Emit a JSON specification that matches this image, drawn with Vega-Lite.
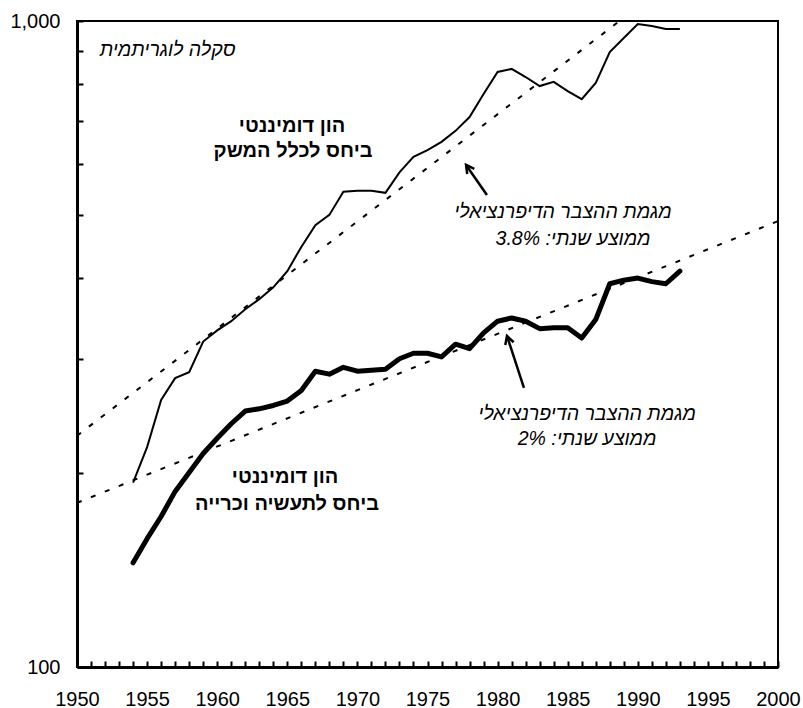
{
  "$schema": "https://vega.github.io/schema/vega-lite/v6.json",
  "width": 701,
  "height": 646,
  "autosize": {"type": "none"},
  "padding": {"left": 77, "top": 21, "right": 25, "bottom": 41},
  "background": "white",
  "config": {
    "view": {"stroke": "black", "strokeWidth": 2},
    "font": "Liberation Sans",
    "axis": {"grid": false, "title": null, "domainColor": "black", "domainWidth": 3, "tickColor": "black", "tickWidth": 2, "labelColor": "black", "labelFont": "Liberation Sans", "labelFontSize": 20, "labelFlush": false, "labelOverlap": false}
  },
  "encoding": {
    "x": {"field": "year", "type": "quantitative", "scale": {"domain": [1950, 2000], "nice": false, "zero": false},
      "axis": {"values": [1950,1951,1952,1953,1954,1955,1956,1957,1958,1959,1960,1961,1962,1963,1964,1965,1966,1967,1968,1969,1970,1971,1972,1973,1974,1975,1976,1977,1978,1979,1980,1981,1982,1983,1984,1985,1986,1987,1988,1989,1990,1991,1992,1993,1994,1995,1996,1997,1998,1999,2000],
        "format": "d", "labelExpr": "datum.value % 5 === 0 ? datum.label : ''", "tickSize": -6, "labelPadding": 28}},
    "y": {"field": "value", "type": "quantitative", "scale": {"type": "log", "domain": [100, 1000], "nice": false},
      "axis": {"values": [100,200,300,400,500,600,700,800,900,1000], "labelExpr": "datum.value === 100 || datum.value === 1000 ? format(datum.value, ',') : ''", "tickSize": -6, "labelPadding": 23}}
  },
  "layer": [
    {
      "data": {"values": [
        {"trend": "a", "year": 1950, "value": 228}, {"trend": "a", "year": 1988.7, "value": 1000},
        {"trend": "b", "year": 1950, "value": 179.5}, {"trend": "b", "year": 2000, "value": 490}
      ]},
      "mark": {"type": "line", "color": "black", "strokeWidth": 2, "strokeDash": [5, 10], "clip": true},
      "encoding": {"detail": {"field": "trend"}}
    },
    {
      "data": {"values": [
        {"year": 1954, "value": 193}, {"year": 1955, "value": 219}, {"year": 1956, "value": 259}, {"year": 1957, "value": 280},
        {"year": 1958, "value": 286}, {"year": 1959, "value": 319}, {"year": 1960, "value": 332}, {"year": 1961, "value": 343},
        {"year": 1962, "value": 358}, {"year": 1963, "value": 371}, {"year": 1964, "value": 387}, {"year": 1965, "value": 410},
        {"year": 1966, "value": 447}, {"year": 1967, "value": 483}, {"year": 1968, "value": 501}, {"year": 1969, "value": 544},
        {"year": 1970, "value": 546}, {"year": 1971, "value": 546}, {"year": 1972, "value": 542}, {"year": 1973, "value": 583},
        {"year": 1974, "value": 616}, {"year": 1975, "value": 631}, {"year": 1976, "value": 650}, {"year": 1977, "value": 676},
        {"year": 1978, "value": 710}, {"year": 1979, "value": 771}, {"year": 1980, "value": 834}, {"year": 1981, "value": 843},
        {"year": 1982, "value": 819}, {"year": 1983, "value": 793}, {"year": 1984, "value": 805}, {"year": 1985, "value": 779},
        {"year": 1986, "value": 757}, {"year": 1987, "value": 802}, {"year": 1988, "value": 895}, {"year": 1989, "value": 941},
        {"year": 1990, "value": 989}, {"year": 1991, "value": 982}, {"year": 1992, "value": 972}, {"year": 1993, "value": 972}
      ]},
      "mark": {"type": "line", "color": "black", "strokeWidth": 2}
    },
    {
      "data": {"values": [
        {"year": 1954, "value": 145}, {"year": 1955, "value": 158}, {"year": 1956, "value": 171}, {"year": 1957, "value": 187},
        {"year": 1958, "value": 200}, {"year": 1959, "value": 214}, {"year": 1960, "value": 226}, {"year": 1961, "value": 238},
        {"year": 1962, "value": 249}, {"year": 1963, "value": 251}, {"year": 1964, "value": 254}, {"year": 1965, "value": 258},
        {"year": 1966, "value": 268}, {"year": 1967, "value": 287}, {"year": 1968, "value": 284}, {"year": 1969, "value": 291},
        {"year": 1970, "value": 287}, {"year": 1971, "value": 288}, {"year": 1972, "value": 289}, {"year": 1973, "value": 300},
        {"year": 1974, "value": 306}, {"year": 1975, "value": 306}, {"year": 1976, "value": 302}, {"year": 1977, "value": 316},
        {"year": 1978, "value": 311}, {"year": 1979, "value": 329}, {"year": 1980, "value": 343}, {"year": 1981, "value": 347},
        {"year": 1982, "value": 343}, {"year": 1983, "value": 334}, {"year": 1984, "value": 335}, {"year": 1985, "value": 335},
        {"year": 1986, "value": 323}, {"year": 1987, "value": 345}, {"year": 1988, "value": 392}, {"year": 1989, "value": 397},
        {"year": 1990, "value": 400}, {"year": 1991, "value": 395}, {"year": 1992, "value": 392}, {"year": 1993, "value": 410}
      ]},
      "mark": {"type": "line", "color": "black", "strokeWidth": 5, "strokeCap": "round", "strokeJoin": "round"}
    },
    {
      "data": {"values": [
        {"arrow": "a", "year": 1977.75, "value": 598.6}, {"arrow": "a", "year": 1979.24, "value": 538},
        {"arrow": "b", "year": 1980.67, "value": 325.4}, {"arrow": "b", "year": 1981.88, "value": 270.4}
      ]},
      "mark": {"type": "line", "color": "black", "strokeWidth": 2.5},
      "encoding": {"detail": {"field": "arrow"}}
    },
    {
      "data": {"values": [{"year": 1977.75, "value": 598.6}]},
      "mark": {"type": "point", "shape": "M -0.55 1 L 0 0 L 0.55 1", "size": 256, "filled": false, "stroke": "black", "strokeWidth": 2.5, "opacity": 1, "angle": -36}
    },
    {
      "data": {"values": [{"year": 1980.67, "value": 325.4}]},
      "mark": {"type": "point", "shape": "M -0.55 1 L 0 0 L 0.55 1", "size": 256, "filled": false, "stroke": "black", "strokeWidth": 2.5, "opacity": 1, "angle": -18}
    },
    {
      "data": {"values": [
        {"year": 1965.34, "value": 673, "label": "הון דומיננטי"},
        {"year": 1965.41, "value": 616, "label": "ביחס לכלל המשק"},
        {"year": 1964.84, "value": 192.7, "label": "הון דומיננטי"},
        {"year": 1964.98, "value": 175, "label": "ביחס לתעשיה וכרייה"}
      ]},
      "mark": {"type": "text", "fontWeight": "bold", "fontSize": 20, "align": "center", "baseline": "alphabetic", "color": "black", "font": "Liberation Sans"},
      "encoding": {"text": {"field": "label"}}
    },
    {
      "data": {"values": [
        {"year": 1956.46, "value": 883, "label": "סקלה לוגריתמית"},
        {"year": 1984.66, "value": 495.5, "label": "מגמת ההצבר הדיפרנציאלי"},
        {"year": 1985.38, "value": 450, "label": "ממוצע שנתי: 3.8%"},
        {"year": 1986.38, "value": 241.2, "label": "מגמת ההצבר הדיפרנציאלי"},
        {"year": 1986.38, "value": 220.7, "label": "ממוצע שנתי: 2%"}
      ]},
      "mark": {"type": "text", "fontStyle": "italic", "fontSize": 19.5, "align": "center", "baseline": "alphabetic", "color": "black", "font": "Liberation Sans"},
      "encoding": {"text": {"field": "label"}}
    }
  ]
}
